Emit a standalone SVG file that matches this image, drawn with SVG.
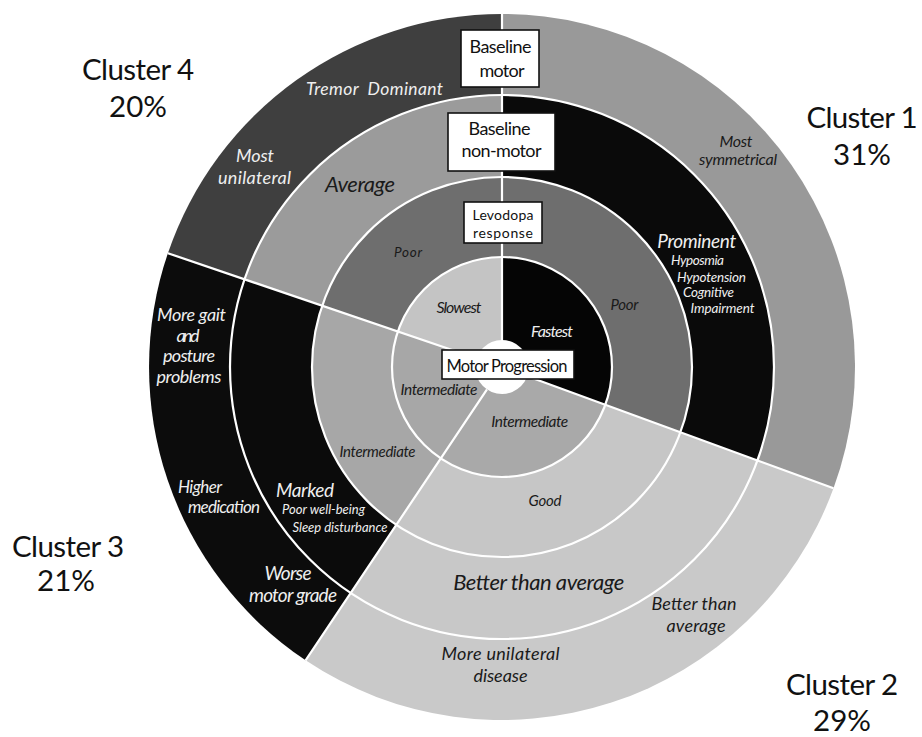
<svg xmlns="http://www.w3.org/2000/svg" width="922" height="737" viewBox="0 0 922 737">
<style>
text{font-family:Lato,"Liberation Sans",sans-serif}
.cl{font-size:29.5px;fill:#111;text-anchor:middle}
.bx{fill:#fff;stroke:#111;stroke-width:1.6}
.bt{font-size:18px;fill:#111;text-anchor:middle}
.w{fill:#efefef;font-style:italic}
.d{fill:#1a1a1a;font-style:italic}
.m{text-anchor:middle}
.sep{fill:none;stroke:#fff;stroke-width:2.2}
</style>
<rect width="922" height="737" fill="#fff"/>
<g id="cluster1">
<path d="M502 367 L502 14 A353 353 0 0 1 833.5 488.3 Z" fill="#999"/>
<path d="M502 367 L502 95 A272 272 0 0 1 757.4 460.5 Z" fill="#0a0a0a"/>
<path d="M502 367 L502 177 A190 190 0 0 1 680.4 432.3 Z" fill="#6e6e6e"/>
<path d="M502 367 L502 257 A110 110 0 0 1 605.3 404.8 Z" fill="#050505"/>
</g>
<g id="cluster2">
<path d="M502 367 L833.5 488.3 A353 353 0 0 1 305.6 660.3 Z" fill="#c9c9c9"/>
<path d="M502 367 L757.4 460.5 A272 272 0 0 1 350.7 593 Z" fill="#c8c8c8"/>
<path d="M502 367 L680.4 432.3 A190 190 0 0 1 396.3 524.9 Z" fill="#c6c6c6"/>
<path d="M502 367 L605.3 404.8 A110 110 0 0 1 440.8 458.4 Z" fill="#a9a9a9"/>
</g>
<g id="cluster3">
<path d="M502 367 L305.6 660.3 A353 353 0 0 1 167.9 253.2 Z" fill="#0c0c0c"/>
<path d="M502 367 L350.7 593 A272 272 0 0 1 244.5 279.3 Z" fill="#0b0b0b"/>
<path d="M502 367 L396.3 524.9 A190 190 0 0 1 322.1 305.8 Z" fill="#a7a7a7"/>
<path d="M502 367 L440.8 458.4 A110 110 0 0 1 397.9 331.5 Z" fill="#a7a7a7"/>
</g>
<g id="cluster4">
<path d="M502 367 L167.9 253.2 A353 353 0 0 1 502 14 Z" fill="#3f3f3f"/>
<path d="M502 367 L244.5 279.3 A272 272 0 0 1 502 95 Z" fill="#9b9b9b"/>
<path d="M502 367 L322.1 305.8 A190 190 0 0 1 502 177 Z" fill="#6e6e6e"/>
<path d="M502 367 L397.9 331.5 A110 110 0 0 1 502 257 Z" fill="#c4c4c4"/>
</g>
<g id="connectors">
<circle class="sep" cx="502" cy="367" r="272"/>
<circle class="sep" cx="502" cy="367" r="190"/>
<circle class="sep" cx="502" cy="367" r="110"/>
<path class="sep" d="M502 340 L502 14 M527.4 376.3 L833.5 488.3 M487 389.4 L305.6 660.3 M476.4 358.3 L167.9 253.2"/>
<circle cx="502" cy="367" r="27" fill="#fff"/>
</g>
<g id="box-baseline-motor">
<rect class="bx" x="461" y="30" width="78" height="57"/>
<text class="bt" x="500.5" y="53" textLength="62">Baseline</text>
<text class="bt" x="502" y="77" textLength="45">motor</text>
</g>
<g id="box-baseline-nonmotor">
<rect class="bx" x="448" y="113" width="107" height="58"/>
<text class="bt" x="499.5" y="135" textLength="62">Baseline</text>
<text class="bt" x="501.5" y="157" textLength="80">non-motor</text>
</g>
<g id="box-levodopa">
<rect class="bx" x="464" y="202" width="78" height="41"/>
<text class="bt" x="503" y="220" style="font-size:14px" textLength="61">Levodopa</text>
<text class="bt" x="503" y="237.5" style="font-size:14px" textLength="60">response</text>
</g>
<g id="box-motor-progression">
<rect class="bx" x="442" y="350" width="132" height="29"/>
<text class="bt" x="507" y="372" style="font-size:16.5px" textLength="121">Motor Progression</text>
</g>
<g id="cluster-labels">
<text class="cl" x="138" y="80" textLength="112">Cluster 4</text>
<text class="cl" x="138" y="117">20%</text>
<text class="cl" x="862" y="128" textLength="111">Cluster 1</text>
<text class="cl" x="862" y="165">31%</text>
<text class="cl" x="68" y="557" textLength="112">Cluster 3</text>
<text class="cl" x="66" y="591">21%</text>
<text class="cl" x="842" y="695" textLength="112">Cluster 2</text>
<text class="cl" x="842" y="731">29%</text>
</g>
<g id="labels-outer">
<text class="w m" x="374.5" y="95" style="font-size:17.5px;white-space:pre" xml:space="preserve" textLength="137">Tremor  Dominant</text>
<text class="w m" x="255" y="162" style="font-size:18px" textLength="38">Most</text>
<text class="w m" x="254.5" y="184" style="font-size:18px" textLength="73">unilateral</text>
<text class="d m" x="736" y="147" style="font-size:16px" textLength="33">Most</text>
<text class="d m" x="738" y="165" style="font-size:16px" textLength="78">symmetrical</text>
<text class="w m" x="191.5" y="321" style="font-size:18px" textLength="69">More gait</text>
<text class="w m" x="188" y="342" style="font-size:18px" textLength="23">and</text>
<text class="w m" x="189" y="362" style="font-size:18px" textLength="52">posture</text>
<text class="w m" x="189" y="383" style="font-size:18px" textLength="65">problems</text>
<text class="w m" x="200" y="493" style="font-size:17px" textLength="44">Higher</text>
<text class="w m" x="224" y="513" style="font-size:17px" textLength="72">medication</text>
<text class="w m" x="288" y="580" style="font-size:19px" textLength="47">Worse</text>
<text class="w m" x="293" y="602" style="font-size:19px" textLength="88">motor grade</text>
<text class="d m" x="500.5" y="660" style="font-size:18px" textLength="118">More unilateral</text>
<text class="d m" x="500.5" y="682" style="font-size:18px" textLength="54">disease</text>
<text class="d m" x="694" y="610" style="font-size:18px" textLength="85">Better than</text>
<text class="d m" x="696" y="632" style="font-size:18px" textLength="59">average</text>
</g>
<g id="labels-nonmotor">
<text class="d m" x="360" y="192" style="font-size:22px" textLength="70">Average</text>
<text class="w m" x="696.7" y="248" style="font-size:19px" textLength="79">Prominent</text>
<text class="w" x="671" y="265" style="font-size:13.5px" textLength="53">Hyposmia</text>
<text class="w" x="677" y="282" style="font-size:13.5px" textLength="69">Hypotension</text>
<text class="w" x="683" y="297" style="font-size:13.5px" textLength="51">Cognitive</text>
<text class="w" x="690.5" y="313" style="font-size:13.5px" textLength="64">Impairment</text>
<text class="w m" x="305" y="497" style="font-size:19px" textLength="58">Marked</text>
<text class="w" x="282" y="514" style="font-size:13px" textLength="83">Poor well-being</text>
<text class="w" x="292.5" y="532" style="font-size:13px" textLength="95">Sleep disturbance</text>
<text class="d m" x="538.7" y="590" style="font-size:22px" textLength="171">Better than average</text>
</g>
<g id="labels-levodopa">
<text class="d m" x="408" y="257" style="font-size:13.5px" textLength="28">Poor</text>
<text class="d m" x="624.5" y="310" style="font-size:15px" textLength="28">Poor</text>
<text class="d m" x="377.5" y="457" style="font-size:15px" textLength="76">Intermediate</text>
<text class="d m" x="545" y="506" style="font-size:15px" textLength="33">Good</text>
</g>
<g id="labels-progression">
<text class="d m" x="459" y="313" style="font-size:16px" textLength="45">Slowest</text>
<text class="w m" x="552" y="337" style="font-size:16px" textLength="42">Fastest</text>
<text class="d m" x="439" y="395" style="font-size:15.5px" textLength="77">Intermediate</text>
<text class="d m" x="529.7" y="427" style="font-size:15.5px" textLength="77">Intermediate</text>
</g>
</svg>
